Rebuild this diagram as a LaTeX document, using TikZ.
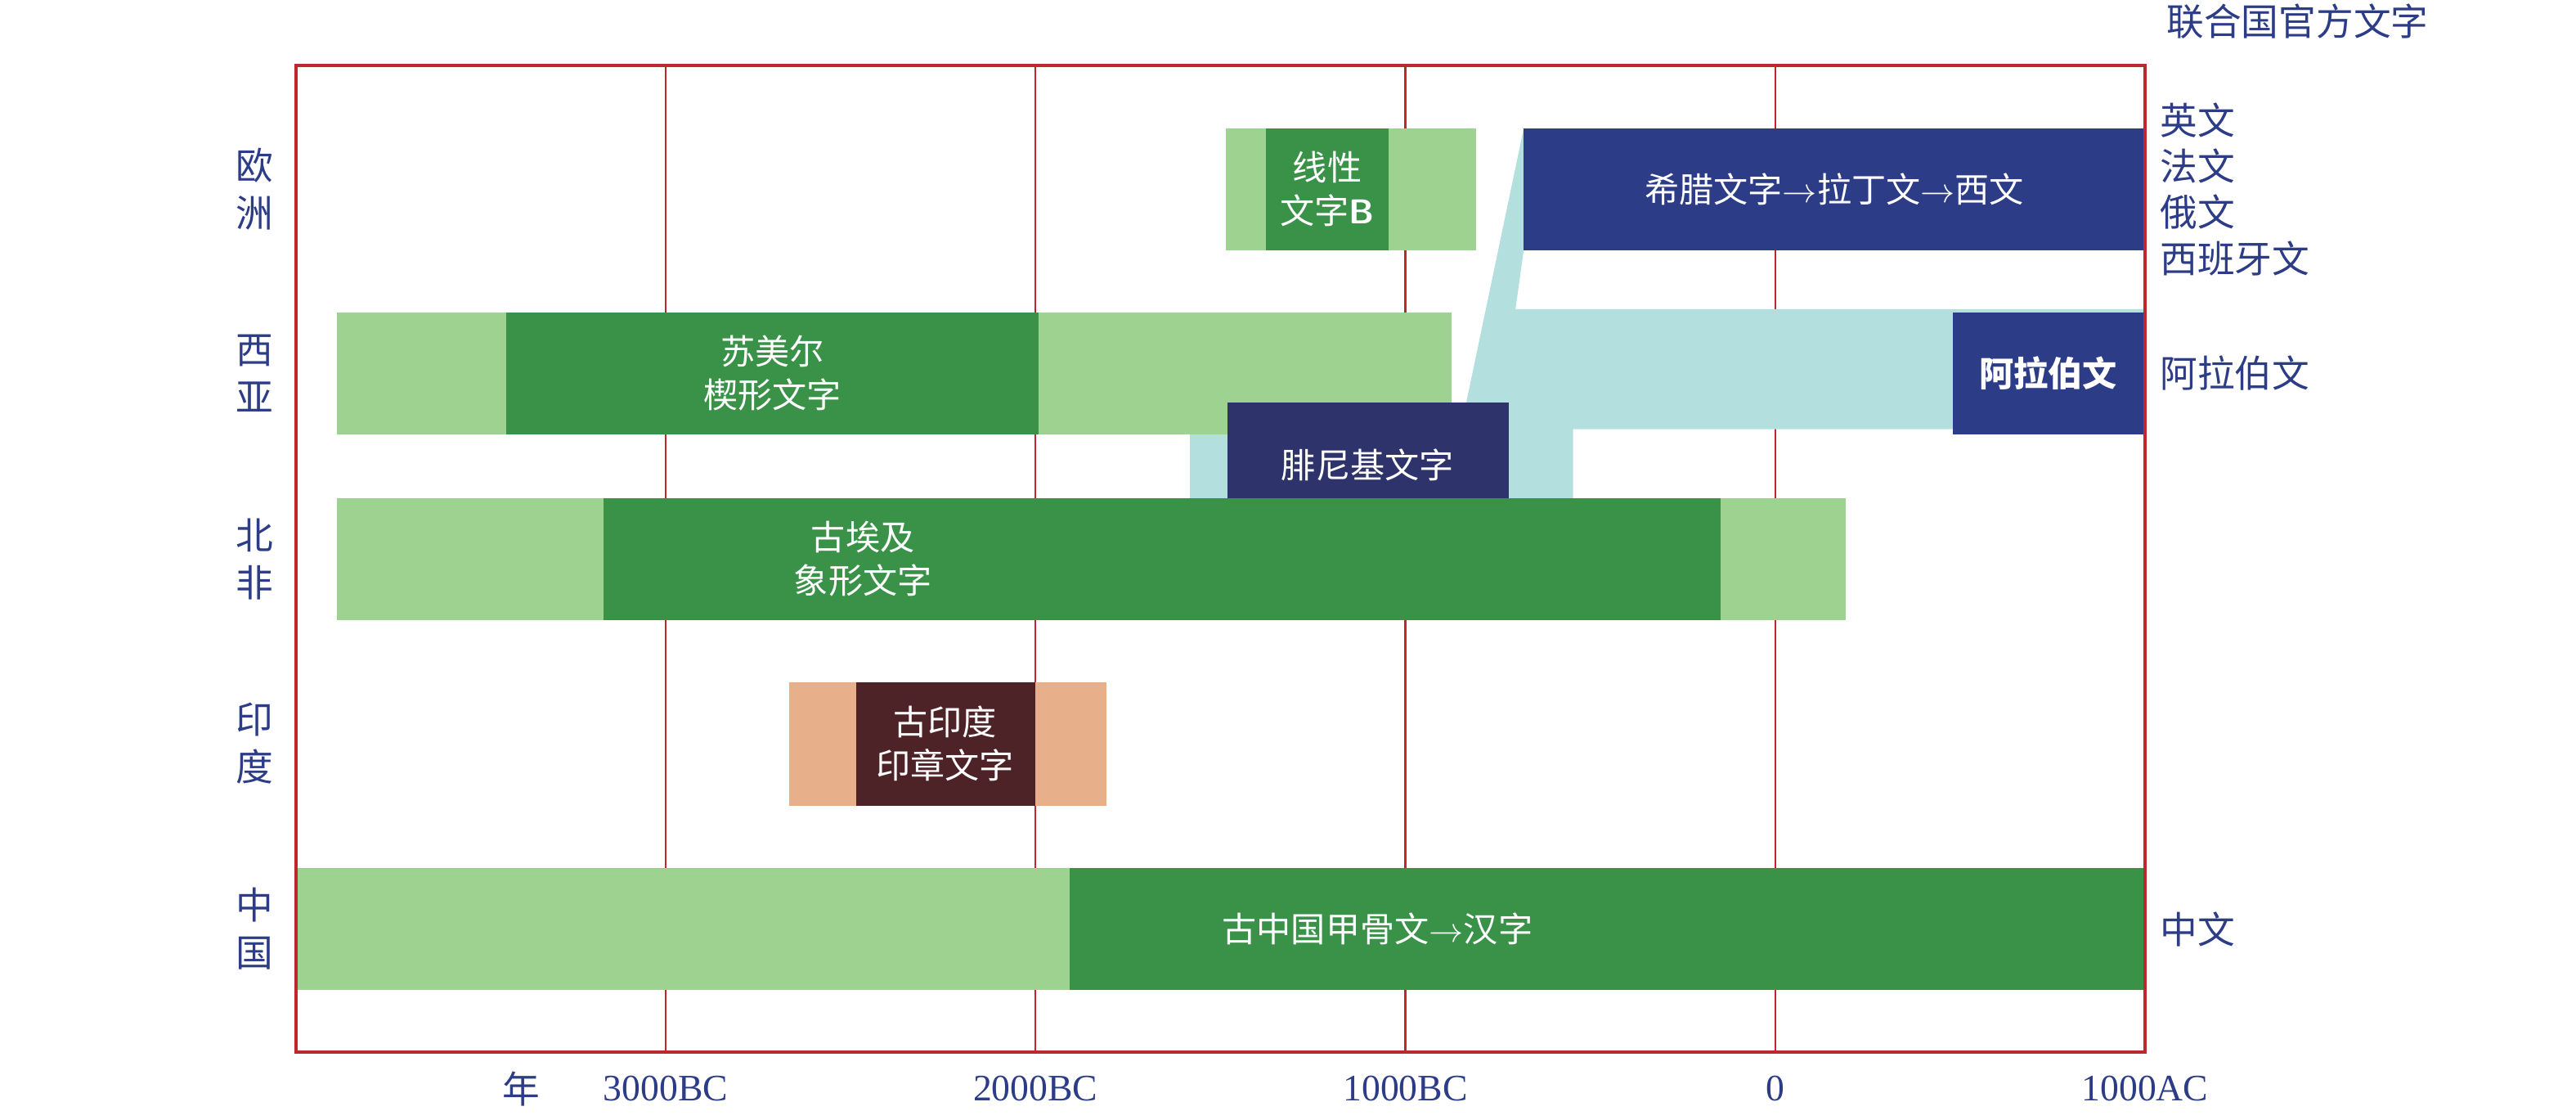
\documentclass[tikz,border=0pt]{standalone}
\usepackage{fontspec}
\setmainfont{Liberation Serif}
\newfontfamily\cjk{Noto Sans CJK SC}
\definecolor{lgreen}{HTML}{9ED290}
\definecolor{dgreen}{HTML}{3A9148}
\definecolor{navy}{HTML}{2C3C86}
\definecolor{pnavy}{HTML}{2E346B}
\definecolor{lcyan}{HTML}{B3DFDF}
\definecolor{peach}{HTML}{E8B08A}
\definecolor{brown}{HTML}{4E2327}
\definecolor{frame}{HTML}{C0272D}
\tikzset{
  barlabel/.style={text=white, font=\cjk\fontsize{12}{15}\selectfont, align=center},
  sidelabel/.style={text=navy, font=\cjk\fontsize{13}{16}\selectfont, align=left, anchor=west},
  rowlabel/.style={text=navy, font=\cjk\fontsize{13}{16.5}\selectfont, align=center},
  yearlabel/.style={text=navy, font=\fontsize{13}{16}\selectfont}
}
\begin{document}
\begin{tikzpicture}[x=0.0201cm, y=-0.0201cm]
  \useasboundingbox (0,0) rectangle (1567.2,681.1);
  % grid
  \foreach \x in {405,630,855,1080}
    \draw[frame, line width=0.6pt] (\x,40) -- (\x,640);
  % Europe
  \fill[lgreen] (746,78) rectangle (898,152);
  \fill[dgreen] (770,78) rectangle (845,152);
  % cyan band from Phoenician
  \fill[lcyan] (927,78) -- (892,245) -- (724,245) -- (724,320) -- (957,320)
    -- (957,261) -- (1305,261) -- (1305,188) -- (922,188) -- (927,152) -- cycle;
  \fill[navy] (927,78) rectangle (1305,152);
  % West Asia
  \fill[lgreen] (205,190) rectangle (883,264);
  \fill[dgreen] (308,190) rectangle (632,264);
  \fill[navy] (1188,190) rectangle (1305,264);
  \fill[pnavy] (747,245) rectangle (918,320);
  % North Africa
  \fill[lgreen] (205,303) rectangle (1123,377);
  \fill[dgreen] (367,303) rectangle (1047,377);
  % India
  \fill[peach] (480,415) rectangle (673,490);
  \fill[brown] (521,415) rectangle (630,490);
  % China
  \fill[lgreen] (180,528) rectangle (651,602);
  \fill[dgreen] (651,528) rectangle (1305,602);
  \draw[frame, line width=1.2pt] (180,40) rectangle (1305,640);

  \node[barlabel] (linb) at (807.5,115) {线性\\文字\textsf{\textbf{B}}};
  \node[barlabel] (greek) at (1116,115) {希腊文字$\rightarrow$拉丁文$\rightarrow$西文};
  \node[barlabel] (sumer) at (470,227) {苏美尔\\楔形文字};
  \node[barlabel] (arab) at (1246,227) {\textbf{阿拉伯文}};
  \node[barlabel] (phoen) at (832,283) {腓尼基文字};
  \node[barlabel] (egypt) at (525,340) {古埃及\\象形文字};
  \node[barlabel] (indus) at (575,452) {古印度\\印章文字};
  \node[barlabel] (china) at (838,565) {古中国甲骨文$\rightarrow$汉字};

  \node[rowlabel] (eu) at (155,115) {欧\\洲};
  \node[rowlabel] (wa) at (155,227) {西\\亚};
  \node[rowlabel] (na) at (155,340) {北\\非};
  \node[rowlabel] (in) at (155,452) {印\\度};
  \node[rowlabel] (cn) at (155,565) {中\\国};

  \node[sidelabel, text=navy] (un) at (1312,13) {联合国官方文字};
  \node[sidelabel] (west) at (1308,115) {英文\\法文\\俄文\\西班牙文};
  \node[sidelabel] (arabr) at (1308,227) {阿拉伯文};
  \node[sidelabel] (zh) at (1308,565) {中文};

  \node[rowlabel] (nian) at (317,662) {年};
  \node[yearlabel] (y3) at (405,662) {3000BC};
  \node[yearlabel] (y2) at (630,662) {2000BC};
  \node[yearlabel] (y1) at (855,662) {1000BC};
  \node[yearlabel] (y0) at (1080,662) {0};
  \node[yearlabel] (ya) at (1305,662) {1000AC};
\end{tikzpicture}
\end{document}
